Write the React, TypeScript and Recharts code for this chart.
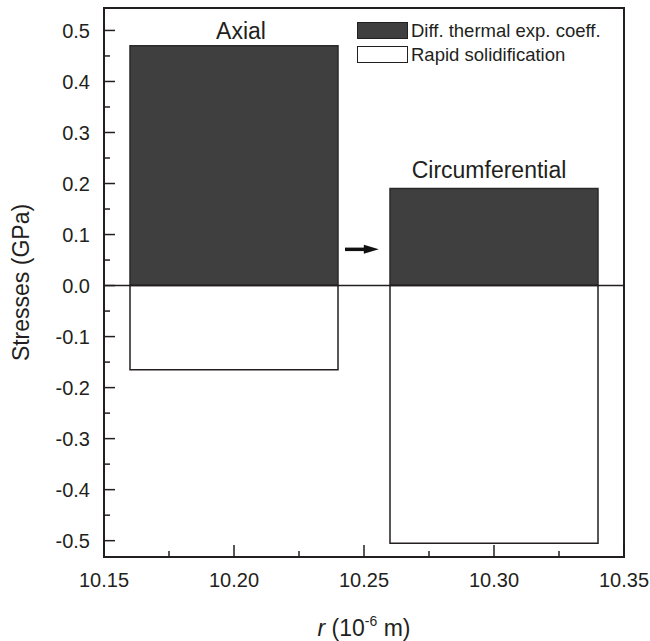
import React from "react";
import { ComposedChart, XAxis, YAxis, ReferenceArea, ReferenceLine } from "recharts";

// regions and stresses (GPa)
const regions = ["Axial", "Circumferential"];
const rStart = [10.16, 10.26];
const rEnd = [10.24, 10.34];
const thermalStress = [0.47, 0.19];
const rapidStress = [-0.165, -0.505];
const seriesNames = ["Diff. thermal exp. coeff.", "Rapid solidification"];

const xDomain = [10.15, 10.35];
const yDomain = [-0.532, 0.544];
const xTicks = [10.15, 10.175, 10.2, 10.225, 10.25, 10.275, 10.3, 10.325, 10.35];
const yTicks = [
  -0.5, -0.45, -0.4, -0.35, -0.3, -0.25, -0.2, -0.15, -0.1, -0.05, 0,
  0.05, 0.1, 0.15, 0.2, 0.25, 0.3, 0.35, 0.4, 0.45, 0.5,
];
const arrowX = [10.2427, 10.2557];
const arrowY = 0.071;

const INK = "#231f20";
const DARK = "#3f3f3f";
const FONT = "'Liberation Sans', Arial, Helvetica, sans-serif";

const YTick = (props: any) => {
  const { x, y, payload } = props;
  const v = payload.value as number;
  const major = Math.abs(Math.round(v * 100)) % 10 === 0;
  return (
    <g>
      <line x1={x} x2={x + (major ? 11 : 6)} y1={y} y2={y} stroke={INK} strokeWidth={1.5} />
      {major && (
        <text x={x - 14} y={y} dy="0.36em" textAnchor="end" fontSize={20} fontFamily={FONT} fill={INK}>
          {v.toFixed(1)}
        </text>
      )}
    </g>
  );
};

const XTick = (props: any) => {
  const { x, y, payload } = props;
  const v = payload.value as number;
  const major = Math.round(v * 1000) % 50 === 0;
  return (
    <g>
      <line x1={x} x2={x} y1={y} y2={y - (major ? 12 : 6)} stroke={INK} strokeWidth={1.5} />
      {major && (
        <text x={x} y={y + 30} textAnchor="middle" fontSize={20} fontFamily={FONT} fill={INK}>
          {v.toFixed(2)}
        </text>
      )}
    </g>
  );
};

const XTitle = (props: any) => {
  const { x, y, width } = props.viewBox;
  return (
    <text x={x + width / 2} y={y + 79} textAnchor="middle" fontSize={23} fontFamily={FONT} fill={INK}>
      <tspan fontStyle="italic">r</tspan>
      <tspan> (10</tspan>
      <tspan fontSize={14} dy={-10}>-6</tspan>
      <tspan dy={10}> m)</tspan>
    </text>
  );
};

const YTitle = (props: any) => {
  const { y, height } = props.viewBox;
  const cx = 21;
  const cy = y + height / 2;
  return (
    <text x={cx} y={cy} transform={`rotate(-90 ${cx} ${cy})`} textAnchor="middle" dominantBaseline="central"
      fontSize={23} fontFamily={FONT} fill={INK}>
      Stresses (GPa)
    </text>
  );
};

const regionTitle = (text: string, dx: number, gap: number) => (props: any) => {
  const { x, y, width } = props.viewBox;
  return (
    <text x={x + width / 2 + dx} y={y - gap} textAnchor="middle" fontSize={23} fontFamily={FONT} fill={INK}>
      {text}
    </text>
  );
};

const Arrow = (props: any) => {
  const { x1, y1, x2 } = props;
  const head = 15;
  return (
    <g>
      <line x1={x1} y1={y1} x2={x2 - head + 2} y2={y1} stroke="#111" strokeWidth={3.5} />
      <polygon points={`${x2},${y1} ${x2 - head},${y1 - 4.5} ${x2 - head},${y1 + 4.5}`} fill="#111" />
    </g>
  );
};

export default function App() {
  const titleTweaks = [
    { dx: 7, gap: 7 },
    { dx: -5, gap: 11 },
  ];
  return (
    <div style={{ position: "absolute", left: 0, top: 0, width: 650, height: 641, background: "#fff" }}>
      <ComposedChart width={650} height={641} margin={{ top: 8, right: 26, bottom: 0, left: 0 }}>
        <XAxis
          xAxisId="b"
          type="number"
          dataKey="r"
          domain={xDomain}
          ticks={xTicks}
          allowDataOverflow
          height={84}
          tickSize={0}
          tickMargin={0}
          tickLine={false}
          tick={<XTick />}
          axisLine={{ stroke: INK, strokeWidth: 2 }}
          interval={0}
          label={{ content: <XTitle /> }}
        />
        <YAxis
          yAxisId="l"
          type="number"
          domain={yDomain}
          ticks={yTicks}
          allowDataOverflow
          width={104}
          tickSize={0}
          tickMargin={0}
          tickLine={false}
          tick={<YTick />}
          axisLine={{ stroke: INK, strokeWidth: 2 }}
          interval={0}
          label={{ content: <YTitle /> }}
        />
        {regions.map((name, i) => (
          <ReferenceArea
            key={`t-${name}`}
            xAxisId="b"
            yAxisId="l"
            x1={rStart[i]}
            x2={rEnd[i]}
            y1={0}
            y2={thermalStress[i]}
            fill={DARK}
            fillOpacity={1}
            stroke="#2a2a2a"
            strokeWidth={1.5}
            label={{ content: regionTitle(name, titleTweaks[i].dx, titleTweaks[i].gap) }}
          />
        ))}
        {regions.map((name, i) => (
          <ReferenceArea
            key={`r-${name}`}
            xAxisId="b"
            yAxisId="l"
            x1={rStart[i]}
            x2={rEnd[i]}
            y1={rapidStress[i]}
            y2={0}
            fill="#fff"
            fillOpacity={1}
            stroke={INK}
            strokeWidth={1.5}
          />
        ))}
        <ReferenceLine xAxisId="b" yAxisId="l" y={0} stroke={INK} strokeWidth={1.5} />
        <ReferenceLine
          xAxisId="b"
          yAxisId="l"
          segment={[{ x: arrowX[0], y: arrowY }, { x: arrowX[1], y: arrowY }]}
          shape={<Arrow />}
        />
        {/* plot frame */}
        <ReferenceArea
          xAxisId="b"
          yAxisId="l"
          x1={xDomain[0]}
          x2={xDomain[1]}
          y1={yDomain[0]}
          y2={yDomain[1]}
          fill="none"
          stroke={INK}
          strokeWidth={2}
          ifOverflow="visible"
        />
      </ComposedChart>
      <div style={{ position: "absolute", left: 357, top: 22, fontFamily: FONT, fontSize: 18.5, color: INK, lineHeight: "17px" }}>
        {seriesNames.map((s, i) => (
          <div key={s} style={{ display: "flex", alignItems: "center", marginBottom: 7 }}>
            <div style={{ width: 49, height: 15, border: `1.5px solid ${INK}`, background: i === 0 ? DARK : "#fff" }} />
            <span style={{ marginLeft: 3, whiteSpace: "nowrap" }}>{s}</span>
          </div>
        ))}
      </div>
    </div>
  );
}
